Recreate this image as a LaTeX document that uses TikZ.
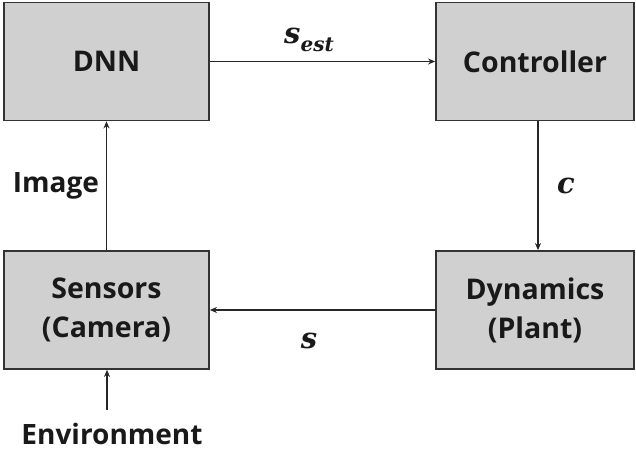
\documentclass[tikz,border=0pt]{standalone}
\usepackage{fontspec}
\setmainfont{Open Sans}
\newfontfamily\labfont{DejaVu Serif}
\usetikzlibrary{arrows.meta}

\definecolor{boxgray}{RGB}{208,208,208}
\def\boxwidth{205pt}
\def\boxheight{118pt}

\begin{document}
\begin{tikzpicture}[x=1pt,y=1pt,-{Stealth[length=7pt,width=6pt]},line width=1.6pt,draw=black!85]
    \tikzstyle{block}=[rectangle, draw=black!80, line width=1.8pt, fill=boxgray,
        minimum width=\boxwidth, minimum height=\boxheight, align=center,
        font=\fontsize{28.5}{39}\selectfont\bfseries, text=black!90]
    \tikzstyle{annot}=[font=\fontsize{28}{30}\selectfont\bfseries, text=black!90]
    \tikzstyle{sig}=[font=\fontsize{29}{32}\selectfont\labfont\bfseries\itshape, text=black!90]

    \useasboundingbox (0,0) rectangle (636,450);

    % Draw the four blocks of the loop
    \node[block] (DNN) at (106.5,388.5) {DNN};
    \node[block, minimum width=198pt] (Ctrl) at (535,388.5) {Controller};
    \node[block] (Sens) at (106.5,140) {Sensors\\(Camera)};
    \node[block, minimum width=198pt] (Dyn) at (535,140) {Dynamics\\(Plant)};

    % Outside input
    \node[annot, inner sep=0pt, anchor=base] (Env) at (112,6) {Environment};

    % Connect the blocks
    \path (DNN) edge (Ctrl);
    \path ([xshift=3pt]Ctrl.south) edge ([xshift=3pt]Dyn.north);
    \path (Dyn) edge (Sens);
    \path (Sens) edge (DNN);
    \path ([xshift=-5pt,yshift=12pt]Env.north) edge ([xshift=0.5pt]Sens.south);

    % Annotate the signals
    \node[sig] (sest) at (309,410) {s\raisebox{-0.3em}{\fontsize{20}{20}\selectfont est}};
    \node[sig] (cl) at (566,264) {c};
    \node[sig] (sl) at (309,109) {s};
    \node[annot] (img) at (56,264) {Image};
\end{tikzpicture}
\end{document}
